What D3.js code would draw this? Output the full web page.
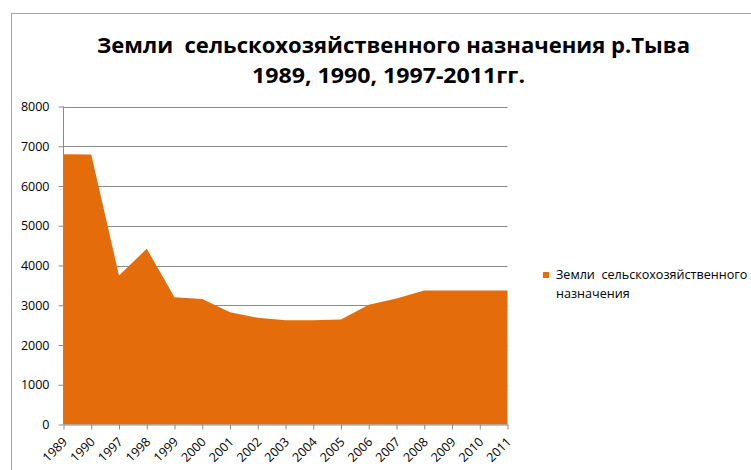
<!DOCTYPE html>
<html><head><meta charset="utf-8">
<script src="https://cdn.jsdelivr.net/npm/d3@7/dist/d3.min.js"></script>
<style>body{margin:0;background:#fff}svg{display:block}text{white-space:pre}</style>
</head><body><svg id="c" width="751" height="470"></svg>
<script>
const years = ["1989","1990","1997","1998","1999","2000","2001","2002","2003","2004","2005","2006","2007","2008","2009","2010","2011"];
const values = [6800,6790,3750,4420,3200,3160,2825,2685,2625,2620,2640,3010,3170,3370,3370,3370,3370];
const yTicks = [0,1000,2000,3000,4000,5000,6000,7000,8000];
const titleLines = ["Земли  сельскохозяйственного назначения р.Тыва","1989, 1990, 1997-2011гг."];
const legendLines = ["Земли  сельскохозяйственного","назначения"];

const svg = d3.select("#c");
const font = "'Open Sans', 'DejaVu Sans', sans-serif";
svg.append("rect").attr("x",11.5).attr("y",13.5).attr("width",800).attr("height",500)
  .attr("fill","none").attr("stroke","#a6a6a6").attr("stroke-width",1);

const x = d3.scalePoint().domain(years).range([63.5,507.5]);
const y = d3.scaleLinear().domain([0,8000]).range([424.5,106.5]);

// gridlines
svg.append("g").selectAll("line").data(yTicks.filter(d=>d>0)).join("line")
  .attr("x1",63.5).attr("x2",507.5).attr("y1",d=>Math.round(y(d))+0.5).attr("y2",d=>Math.round(y(d))+0.5)
  .attr("stroke","#8c8c8c");

// area
const area = d3.area().x((d,i)=>x(years[i])).y0(y(0)).y1(d=>y(d));
svg.append("path").datum(values).attr("d",area).attr("fill","#E46C0A");

// y axis
const ya = svg.append("g").attr("transform","translate(63.5,0)")
  .call(d3.axisLeft(y).tickValues(yTicks).tickSize(5).tickPadding(9).tickFormat(d3.format("d")));
ya.select(".domain").attr("stroke","#8c8c8c").attr("d","M0,"+y(8000)+"V"+y(0));
ya.selectAll(".tick line").attr("stroke","#8c8c8c");
ya.selectAll("text").attr("font-family",font).attr("font-size",12.5).attr("fill","#000");

// x axis
const xa = svg.append("g").attr("transform","translate(0,"+y(0)+")")
  .call(d3.axisBottom(x).tickSize(5).tickSizeOuter(0));
xa.select(".domain").attr("stroke","#8c8c8c");
xa.selectAll(".tick line").attr("stroke","#8c8c8c");
xa.selectAll("text").attr("font-family",font).attr("font-size",12.5).attr("fill","#000")
  .attr("x",0).attr("y",0).attr("dy","0.35em")
  .attr("text-anchor","end").attr("transform","translate(1,15) rotate(-45)");

// title
const titleLen = [593, 273];
svg.append("g").selectAll("text").data(titleLines).join("text")
  .attr("x",(d,i)=>i===0?393.5:388.5).attr("y",(d,i)=>53+i*30).attr("text-anchor","middle")
  .attr("font-family",font).attr("font-weight","bold").attr("font-size",22).attr("fill","#000")
  .attr("textLength",(d,i)=>titleLen[i]).attr("lengthAdjust","spacingAndGlyphs")
  .text(d=>d);

// legend
svg.append("rect").attr("x",543).attr("y",272).attr("width",6).attr("height",6).attr("fill","#E46C0A");
svg.append("g").selectAll("text").data(legendLines).join("text")
  .attr("x",556).attr("y",(d,i)=>279+i*19).attr("font-family",font).attr("font-size",12.6).attr("fill","#000")
  .text(d=>d);
</script></body></html>
